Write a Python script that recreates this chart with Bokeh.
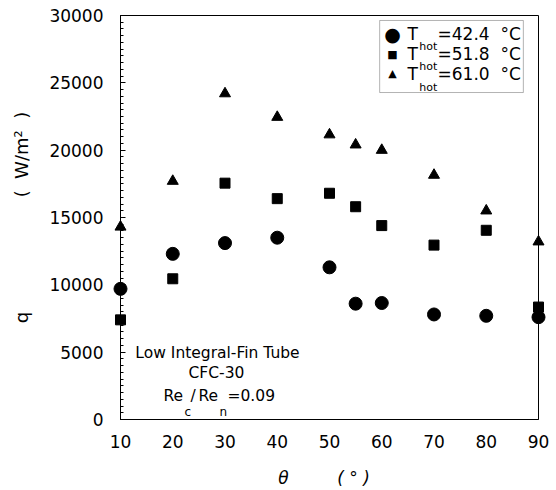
from bokeh.plotting import figure
from bokeh.models import Label, BoxAnnotation, Range1d, FixedTicker, ColumnDataSource
from bokeh.embed import file_html
from bokeh.resources import INLINE

# ---- data ----
theta = [10, 20, 30, 40, 50, 55, 60, 70, 80, 90]
q_424 = [9700, 12300, 13100, 13500, 11300, 8600, 8650, 7800, 7700, 7600]
q_518 = [7400, 10450, 17550, 16400, 16800, 15800, 14400, 12950, 14050, 8350]
q_610 = [14300, 17700, 24200, 22450, 21150, 20400, 20000, 18150, 15500, 13200]
x_ticks = [10, 20, 30, 40, 50, 60, 70, 80, 90]
y_ticks = [0, 5000, 10000, 15000, 20000, 25000, 30000]
legend_temps = ["42.4", "51.8", "61.0"]

FONT = "DejaVu Sans"
NB = "\u00a0"

p = figure(frame_width=418, frame_height=404, output_backend="svg",
           toolbar_location=None, x_range=Range1d(10, 90), y_range=Range1d(0, 30000),
           min_border_left=120, min_border_right=16, min_border_top=15, min_border_bottom=69)
p.background_fill_color = "white"
p.border_fill_color = "white"
p.outline_line_color = "black"
p.outline_line_width = 1
p.xgrid.visible = False
p.ygrid.visible = False

# axes
p.xaxis.ticker = FixedTicker(ticks=x_ticks)
p.yaxis.ticker = FixedTicker(ticks=y_ticks,
                             minor_ticks=[v * 500 for v in range(0, 61)])
for ax in (p.xaxis, p.yaxis):
    ax.axis_line_color = "black"
    ax.axis_line_width = 1
    ax.major_label_text_font = FONT
    ax.major_label_text_font_size = "17px"
    ax.major_label_text_color = "black"
    ax.major_tick_out = 0
    ax.minor_tick_out = 0
    ax.axis_label_text_font = FONT
    ax.axis_label_text_color = "black"
p.xaxis.major_tick_in = 0
p.xaxis.minor_tick_in = 0
p.xaxis.major_label_standoff = 15
p.yaxis.major_tick_in = 5
p.yaxis.minor_tick_in = 3
p.yaxis.major_tick_line_color = "black"
p.yaxis.minor_tick_line_color = "black"
p.yaxis.major_label_standoff = 17

p.xaxis.axis_label = "\u03B8" + NB * 9 + "(" + NB + "\u00B0" + NB + ")" + NB * 2
p.xaxis.axis_label_text_font_size = "17px"
p.xaxis.axis_label_text_font_style = "italic"
p.xaxis.axis_label_standoff = 17

p.yaxis.axis_label = "q" + NB * 20 + "(" + NB * 2 + "W/m\u00B2" + NB * 2 + ")"
p.yaxis.axis_label_text_font_size = "18px"
p.yaxis.axis_label_text_font_style = "normal"
p.yaxis.axis_label_standoff = 14

# data marks
src = ColumnDataSource(dict(theta=theta, a=q_424, b=q_518, c=q_610))
r1 = p.scatter("theta", "a", source=src, marker="circle", size=13,
               fill_color="black", line_color="black")
r2 = p.scatter("theta", "b", source=src, marker="square", size=10,
               fill_color="black", line_color="black")
r3 = p.scatter("theta", "c", source=src, marker="triangle", size=11,
               fill_color="black", line_color="black")
for r in (r1, r2, r3):
    r.level = "overlay"

def lab(x, y, text, size="16px", align="left", baseline="middle", style="normal"):
    p.add_layout(Label(x=x, y=y, text=text, text_font=FONT, text_font_size=size,
                       text_align=align, text_baseline=baseline,
                       text_color="black", text_font_style=style))

# legend box
p.add_layout(BoxAnnotation(left=59.6, right=87.1, top=29630, bottom=24280,
                           fill_color=None, line_color="black", line_width=1))
sym_y = [28626, 27141, 25656]
lab(62.06, sym_y[0], "\u25CF", size="19px", align="center")
lab(62.06, sym_y[1], "\u25A0", size="11px", align="center")
lab(62.06, sym_y[2], "\u25B2", size="11px", align="center")
for yy, t in zip(sym_y, legend_temps):
    lab(64.93, yy, "T", size="17px")
    lab(70.67, yy, "=" + t + NB * 2 + "\u00B0C", size="17px")
lab(67.2, 27700, "hot", size="11px")
lab(67.2, 26210, "hot", size="11px")
lab(67.2, 24653, "hot", size="11px")

# annotation text
lab(28.56, 4975, "Low Integral-Fin Tube", size="15.5px", align="center")
lab(28.37, 3416, "CFC-30", size="15.5px", align="center")
lab(18.23, 1708, "Re", size="15.5px")
lab(22.25, 594, "c", size="12px")
lab(23.40, 1708, "/", size="15.5px")
lab(24.93, 1708, "Re", size="15.5px")
lab(28.95, 594, "n", size="12px")
lab(30.48, 1708, "=0.09", size="15.5px")

open("out.html", "w").write(file_html(p, INLINE))
